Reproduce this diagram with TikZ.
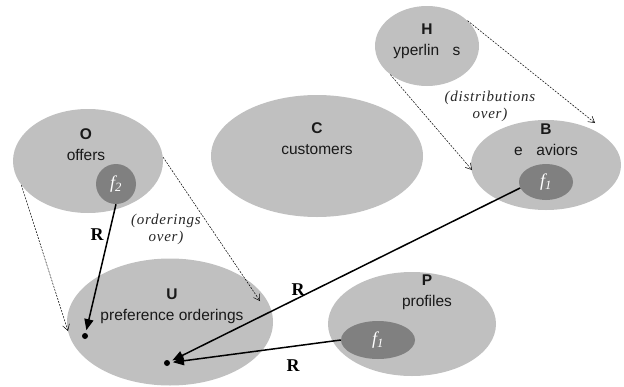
\documentclass[tikz,border=0pt]{standalone}
\usepackage{fontspec}
\setmainfont{Liberation Sans}
\newfontfamily\serifit[LetterSpace=5]{Liberation Serif}
\newfontfamily\serifrm{Liberation Serif}
\usetikzlibrary{shapes.geometric,arrows.meta}
\definecolor{lightg}{HTML}{C0C0C0}
\definecolor{darkg}{HTML}{808080}
\begin{document}
\begin{tikzpicture}[x=1pt,y=-1pt,
  blob/.style={ellipse, fill=lightg, draw=none, inner sep=0pt},
  innerblob/.style={ellipse, fill=darkg, draw=none, inner sep=0pt, text=white,
    font=\serifrm\itshape\fontsize{18}{18}\selectfont},
  lab/.style={align=center, font=\fontsize{15.5}{21}\selectfont, text=black!90},
  note/.style={align=center, font=\serifit\itshape\fontsize{15}{17}\selectfont, text=black!85},
  rel/.style={font=\serifrm\bfseries\fontsize{18}{18}\selectfont},
  blackdot/.style={circle, fill=black, inner sep=0pt, minimum size=6pt, outer sep=3pt},
  solidarrow/.style={line width=1.5pt, -{Triangle[length=11pt,width=9pt]}},
  dasharrow/.style={line width=0.5pt, dash pattern=on 2pt off 1.2pt, -{Straight Barb[length=6pt,width=7pt]}}
]
\useasboundingbox (0,0) rectangle (624,386);

% big sets
\node[blob, minimum width=104pt, minimum height=80pt]  (H) at (427,46) {};
\node[blob, minimum width=150pt, minimum height=90pt]  (B) at (546,165) {};
\node[blob, minimum width=150pt, minimum height=104pt] (O) at (88,161) {};
\node[blob, minimum width=212pt, minimum height=122pt] (C) at (317,156) {};
\node[blob, minimum width=206pt, minimum height=127pt] (U) at (170,322) {};
\node[blob, minimum width=168pt, minimum height=104pt] (P) at (412,324) {};

% inner functions
\node[innerblob, minimum width=40pt, minimum height=40pt] (f2) at (116,184) {f\textsubscript{2}};
\node[innerblob, minimum width=54pt, minimum height=36pt] (Bf) at (546,182) {f\textsubscript{1}};
\node[innerblob, minimum width=74pt, minimum height=38pt] (Pf) at (378,340) {f\textsubscript{1}};

% labels
\node[lab] (Ht) at (427,41)  {\textbf{H}\\yperlin\hspace{0.6em} s};
\node[lab] (Bt) at (546,140) {\textbf{B}\\e\hspace{0.6em} aviors};
\node[lab] (Ot) at (86,145)  {\textbf{O}\\offers};
\node[lab] (Ct) at (317,139) {\textbf{C}\\customers};
\node[lab] (Ut) at (172,306) {\textbf{U}\\preference orderings};
\node[lab] (Pt) at (427,292) {\textbf{P}\\profiles};

% notes
\node[note] (n1) at (490,106) {(distributions\\over)};
\node[note] (n2) at (166,229) {(orderings\\over)};

% dots
\node[blackdot] (d1) at (85,336) {};
\node[blackdot] (d2) at (167,363) {};

% dashed arrow end points
\coordinate (eUl) at (68,331);
\coordinate (eUr) at (260,301);
\coordinate (eBl) at (472,170);
\coordinate (eBr) at (595,123);

\draw[dasharrow] (O.200) -- (eUl);
\draw[dasharrow] (O.3) -- (eUr);
\draw[dasharrow] (H.218) -- (eBl);
\draw[dasharrow] (H.32) -- (eBr);

% solid arrows
\draw[solidarrow] (f2.south) -- (d1);
\draw[solidarrow] (Bf.193) -- (d2);
\draw[solidarrow] (Pf.west) -- (d2);

% relation labels
\node[rel] (r1) at (97,235) {R};
\node[rel] (r2) at (298,290) {R};
\node[rel] (r3) at (293,366) {R};
\end{tikzpicture}
\end{document}
